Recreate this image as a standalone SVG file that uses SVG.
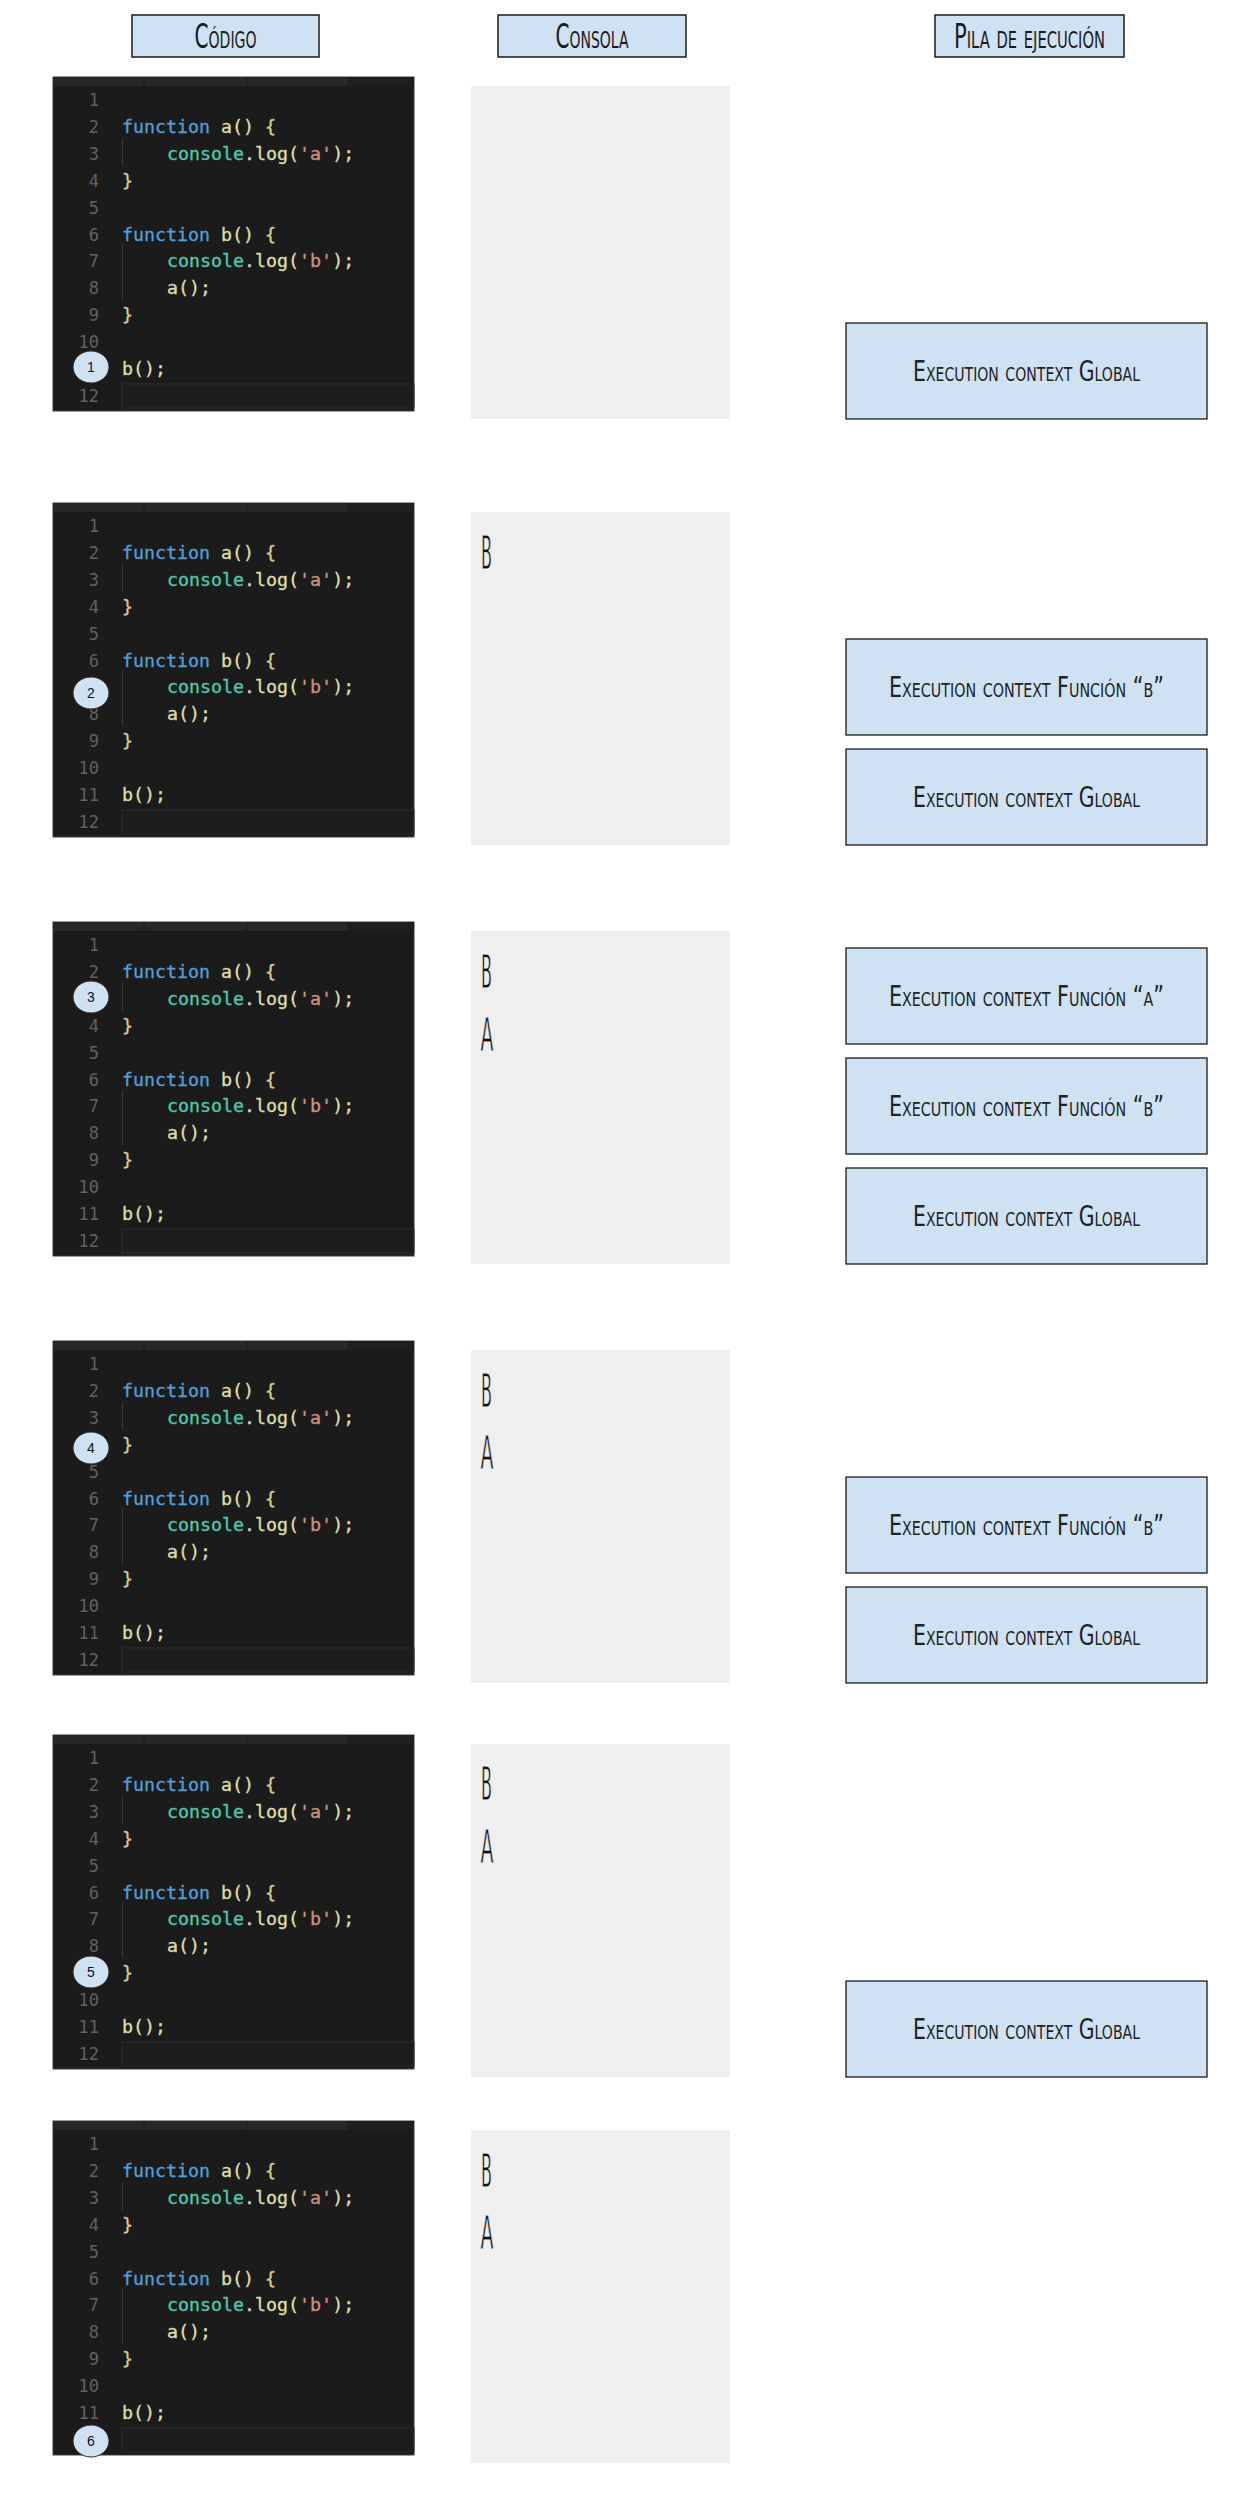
<svg xmlns="http://www.w3.org/2000/svg" xmlns:xlink="http://www.w3.org/1999/xlink" width="1251" height="2500" viewBox="0 0 1251 2500">
<style>
.hdr{fill:#cfe2f3;stroke:#1a1a1a;stroke-width:1.5}
.hdrt{font-family:"Liberation Sans Narrow","DejaVu Sans Condensed","Liberation Sans",sans-serif;font-size:33px;font-variant:small-caps;fill:#1a1a1a;text-anchor:middle}
.stack{fill:#cfe2f3;stroke:#1a1a1a;stroke-width:1.3}
.stackt{font-family:"Liberation Sans Narrow","DejaVu Sans Condensed","Liberation Sans",sans-serif;font-size:29px;font-variant:small-caps;fill:#222;text-anchor:middle}
.cons{fill:#efefef}
.out{font-family:"Liberation Sans Narrow","DejaVu Sans Condensed","Liberation Sans",sans-serif;font-size:46px;fill:#111;stroke:#efefef;stroke-width:0.8}
.ln{font-family:"DejaVu Sans Mono","Liberation Mono",monospace;font-size:17px;fill:#616161;text-anchor:end}
.code{font-family:"DejaVu Sans Mono","Liberation Mono",monospace;font-size:18.3px;fill:#dcdcaa;stroke:#dcdcaa;stroke-width:0.35}
.kw{fill:#569cd6;stroke:#569cd6}.cn{fill:#4ec9b0;stroke:#4ec9b0}.pt{fill:#d4d4d4;stroke:#d4d4d4}.st{fill:#ce9178;stroke:#ce9178}.br{fill:#dcc98f;stroke:#dcc98f}
.mk{fill:#cfe2f3;stroke:#2b2b2b;stroke-width:1}
.mkt{font-family:"Liberation Sans",Arial,sans-serif;font-size:14px;fill:#111;text-anchor:middle}
</style>
<defs>
<g id="codeblock">
<rect x="0" y="0" width="361" height="334" fill="#1b1b1b" stroke="#3c3c3c" stroke-width="1"/>
<rect x="0" y="0" width="361" height="9" fill="#1f1f1f"/>
<rect x="0" y="0" width="294" height="9" fill="#272727"/>
<line x1="91" y1="0" x2="91" y2="9" stroke="#1b1b1b" stroke-width="1"/>
<line x1="194" y1="0" x2="194" y2="9" stroke="#1b1b1b" stroke-width="1"/>
<rect x="69" y="307" width="292" height="24" fill="#1d1d1d" stroke="#2c2c2c" stroke-width="1"/>
<line x1="69.5" y1="61" x2="69.5" y2="89" stroke="#3a3a3a" stroke-width="1"/>
<line x1="69.5" y1="168" x2="69.5" y2="223" stroke="#3a3a3a" stroke-width="1"/>
<text class="ln" x="46" y="29">1</text>
<text class="ln" x="46" y="55.9">2</text>
<text class="ln" x="46" y="82.8">3</text>
<text class="ln" x="46" y="109.7">4</text>
<text class="ln" x="46" y="136.6">5</text>
<text class="ln" x="46" y="163.5">6</text>
<text class="ln" x="46" y="190.4">7</text>
<text class="ln" x="46" y="217.3">8</text>
<text class="ln" x="46" y="244.2">9</text>
<text class="ln" x="46" y="271.1">10</text>
<text class="ln" x="46" y="298">11</text>
<text class="ln" x="46" y="324.9">12</text>
<text class="code" x="69" y="55.9" xml:space="preserve"><tspan class="kw">function</tspan> a() <tspan class="br">{</tspan></text>
<text class="code" x="114" y="82.8" xml:space="preserve"><tspan class="cn">console</tspan><tspan class="pt">.</tspan>log(<tspan class="st">'a'</tspan>);</text>
<text class="code br" x="69" y="109.7">}</text>
<text class="code" x="69" y="163.5" xml:space="preserve"><tspan class="kw">function</tspan> b() <tspan class="br">{</tspan></text>
<text class="code" x="114" y="190.4" xml:space="preserve"><tspan class="cn">console</tspan><tspan class="pt">.</tspan>log(<tspan class="st">'b'</tspan>);</text>
<text class="code" x="114" y="217.3">a();</text>
<text class="code br" x="69" y="244.2">}</text>
<text class="code" x="69" y="298">b();</text>
</g>
</defs>

<g id="connectors"/>

<g id="header-codigo"><rect class="hdr" x="132" y="15" width="187" height="42"/><text class="hdrt" x="225.5" y="48" textLength="62" lengthAdjust="spacingAndGlyphs">Código</text></g>
<g id="header-consola"><rect class="hdr" x="498" y="15" width="188" height="42"/><text class="hdrt" x="592" y="48" textLength="73" lengthAdjust="spacingAndGlyphs">Consola</text></g>
<g id="header-pila"><rect class="hdr" x="935" y="15" width="189" height="42"/><text class="hdrt" x="1029.5" y="48" textLength="151" lengthAdjust="spacingAndGlyphs">Pila de ejecución</text></g>

<!-- Row 1 -->
<g id="code-1"><use xlink:href="#codeblock" x="53" y="77"/><ellipse class="mk" cx="91" cy="367" rx="18" ry="16"/><text class="mkt" x="91" y="372">1</text></g>
<g id="console-1"><rect class="cons" x="471" y="86" width="259" height="333"/></g>
<g id="stack-1-global"><rect class="stack" x="846" y="323" width="361" height="96"/><text class="stackt" x="1026.5" y="381" textLength="227" lengthAdjust="spacingAndGlyphs">Execution context Global</text></g>

<!-- Row 2 -->
<g id="code-2"><use xlink:href="#codeblock" x="53" y="503"/><ellipse class="mk" cx="91" cy="693" rx="18" ry="16"/><text class="mkt" x="91" y="698">2</text></g>
<g id="console-2"><rect class="cons" x="471" y="512" width="259" height="333"/><text class="out" x="481" y="569" textLength="11" lengthAdjust="spacingAndGlyphs">B</text></g>
<g id="stack-2-b"><rect class="stack" x="846" y="639" width="361" height="96"/><text class="stackt" x="1026.5" y="697" textLength="275" lengthAdjust="spacingAndGlyphs">Execution context Función “b”</text></g>
<g id="stack-2-global"><rect class="stack" x="846" y="749" width="361" height="96"/><text class="stackt" x="1026.5" y="807" textLength="227" lengthAdjust="spacingAndGlyphs">Execution context Global</text></g>

<!-- Row 3 -->
<g id="code-3"><use xlink:href="#codeblock" x="53" y="922"/><ellipse class="mk" cx="91" cy="997" rx="18" ry="16"/><text class="mkt" x="91" y="1002">3</text></g>
<g id="console-3"><rect class="cons" x="471" y="931" width="259" height="333"/><text class="out" x="481" y="988" textLength="11" lengthAdjust="spacingAndGlyphs">B</text><text class="out" x="480.5" y="1051" textLength="13" lengthAdjust="spacingAndGlyphs">A</text></g>
<g id="stack-3-a"><rect class="stack" x="846" y="948" width="361" height="96"/><text class="stackt" x="1026.5" y="1006" textLength="275" lengthAdjust="spacingAndGlyphs">Execution context Función “a”</text></g>
<g id="stack-3-b"><rect class="stack" x="846" y="1058" width="361" height="96"/><text class="stackt" x="1026.5" y="1116" textLength="275" lengthAdjust="spacingAndGlyphs">Execution context Función “b”</text></g>
<g id="stack-3-global"><rect class="stack" x="846" y="1168" width="361" height="96"/><text class="stackt" x="1026.5" y="1226" textLength="227" lengthAdjust="spacingAndGlyphs">Execution context Global</text></g>

<!-- Row 4 -->
<g id="code-4"><use xlink:href="#codeblock" x="53" y="1341"/><ellipse class="mk" cx="91" cy="1448" rx="18" ry="16"/><text class="mkt" x="91" y="1453">4</text></g>
<g id="console-4"><rect class="cons" x="471" y="1350" width="259" height="333"/><text class="out" x="481" y="1407" textLength="11" lengthAdjust="spacingAndGlyphs">B</text><text class="out" x="480.5" y="1469" textLength="13" lengthAdjust="spacingAndGlyphs">A</text></g>
<g id="stack-4-b"><rect class="stack" x="846" y="1477" width="361" height="96"/><text class="stackt" x="1026.5" y="1535" textLength="275" lengthAdjust="spacingAndGlyphs">Execution context Función “b”</text></g>
<g id="stack-4-global"><rect class="stack" x="846" y="1587" width="361" height="96"/><text class="stackt" x="1026.5" y="1645" textLength="227" lengthAdjust="spacingAndGlyphs">Execution context Global</text></g>

<!-- Row 5 -->
<g id="code-5"><use xlink:href="#codeblock" x="53" y="1735"/><ellipse class="mk" cx="91" cy="1972" rx="18" ry="16"/><text class="mkt" x="91" y="1977">5</text></g>
<g id="console-5"><rect class="cons" x="471" y="1744" width="259" height="333"/><text class="out" x="481" y="1800" textLength="11" lengthAdjust="spacingAndGlyphs">B</text><text class="out" x="480.5" y="1863" textLength="13" lengthAdjust="spacingAndGlyphs">A</text></g>
<g id="stack-5-global"><rect class="stack" x="846" y="1981" width="361" height="96"/><text class="stackt" x="1026.5" y="2039" textLength="227" lengthAdjust="spacingAndGlyphs">Execution context Global</text></g>

<!-- Row 6 -->
<g id="code-6"><use xlink:href="#codeblock" x="53" y="2121"/><ellipse class="mk" cx="91" cy="2441" rx="18" ry="16"/><text class="mkt" x="91" y="2446">6</text></g>
<g id="console-6"><rect class="cons" x="471" y="2130" width="259" height="333"/><text class="out" x="481" y="2187" textLength="11" lengthAdjust="spacingAndGlyphs">B</text><text class="out" x="480.5" y="2249" textLength="13" lengthAdjust="spacingAndGlyphs">A</text></g>
</svg>
